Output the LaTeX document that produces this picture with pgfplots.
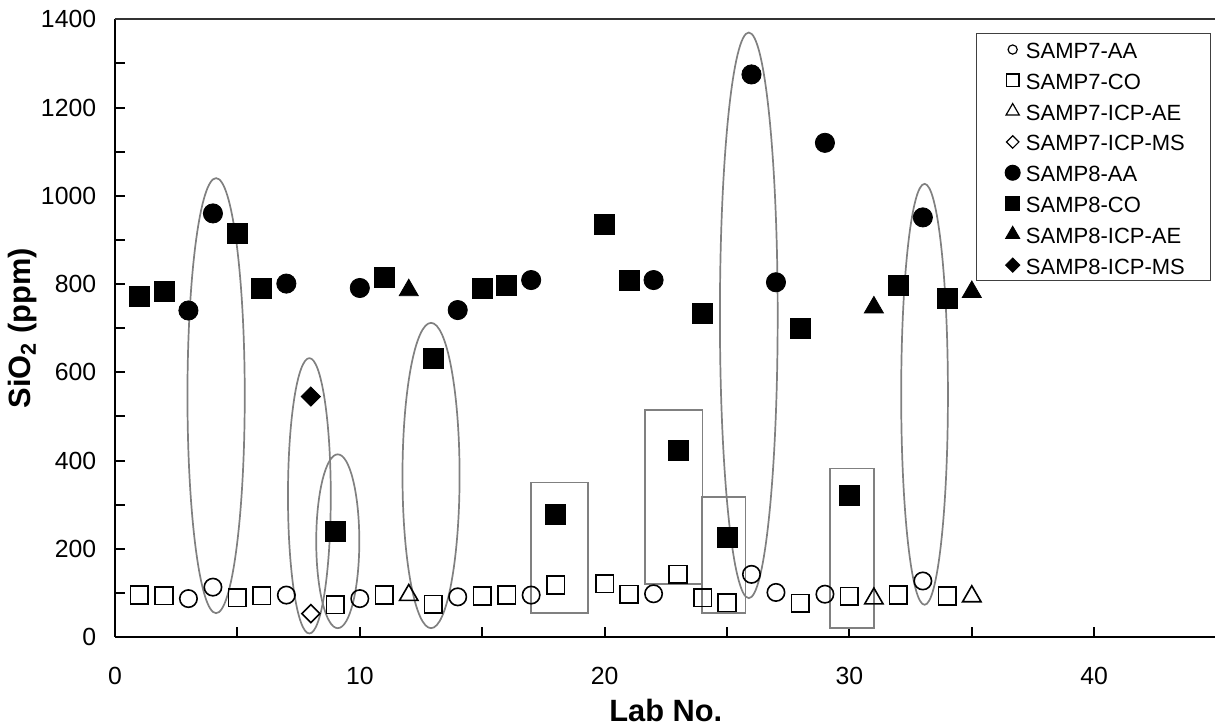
\documentclass[border=0pt]{standalone}
\usepackage{fontspec}
\setmainfont{Liberation Sans}
\usepackage{pgfplots}
\pgfplotsset{compat=1.18}

\begin{document}
\begin{tikzpicture}
\begin{axis}[
  scale only axis,
  width=550.8pt, height=308.85pt,
  xmin=0, xmax=45, ymin=0, ymax=1400,
  clip=false,
  axis lines=left,
  axis line style={-, line width=1.2pt, black},
  xtick={0,10,20,30,40},
  minor xtick={5,15,25,35},
  ytick={0,200,...,1400},
  minor ytick={100,300,...,1300},
  tick align=inside,
  major tick length=5pt, minor tick length=5pt,
  every tick/.style={black, line width=1pt},
  /pgf/number format/assume math mode=true,
  /pgf/number format/1000 sep={},
  tick label style={font=\fontsize{12.4}{14}\selectfont},
  yticklabel style={xshift=-5.9pt},
  xticklabel style={yshift=-11.4pt},
  xlabel={Lab No.},
  ylabel={SiO\textsubscript{2} (ppm)},
  xlabel style={at={(axis description cs:0.5,0)}, anchor=north, inner sep=0pt,
                yshift=-31pt, font=\fontsize{15.4}{18}\selectfont\bfseries},
  ylabel style={at={(axis description cs:-0.0971,0.5)}, anchor=north,
                inner sep=0pt, font=\fontsize{15.4}{18}\selectfont\bfseries},
  legend style={at={(0.8885,0.7765)}, anchor=center, draw=black!75, line width=0.5pt,
                inner xsep=13pt, inner ysep=3.45pt, row sep=6.5pt,
                font=\fontsize{11}{13}\selectfont,
                nodes={inner sep=0pt, text height=8.9pt, text depth=0pt},
                /tikz/every odd column/.append style={column sep=1.65pt}},
  legend cell align=left,
  legend image code/.code={\path[draw=none] (-5pt,0pt) -- (5pt,0pt);
                           \draw[#1] plot coordinates {(0pt,0pt)};},
]
% SAMP7-AA
\addplot[only marks, black, mark=o, mark size=4.35pt, mark options={line width=0.8pt}, forget plot]
  coordinates {(3,87)(4,113)(7,95)(10,87)(14,91)(17,95)(22,98)(26,142)(27,101)(29,97)(33,127)};
% SAMP7-CO
\addplot[only marks, black, mark=square, mark size=4.4pt, mark options={line width=0.8pt}, forget plot]
  coordinates {(1,95)(2,94)(5,89)(6,94)(9,73)(11,95)(13,74)(15,93)(16,95)(18,118)(20,121)
               (21,97)(23,142)(24,89)(25,78)(28,76)(30,92)(32,95)(34,93)};
% SAMP7-ICP-AE
\addplot[only marks, black, mark=triangle, mark size=5.3pt, mark options={line width=0.8pt}, forget plot]
  coordinates {(12,95)(31,87)(35,92)};
% SAMP7-ICP-MS
\addplot[only marks, black, mark=square, mark size=3.2pt, mark options={rotate=45, line width=0.8pt}, forget plot]
  coordinates {(8,53)};
% SAMP8-AA
\addplot[only marks, black, mark=*, mark size=4.8pt, forget plot]
  coordinates {(3,740)(4,960)(7,801)(10,791)(14,741)(17,809)(22,809)(26,1275)(27,804)(29,1120)(33,951)};
% SAMP8-CO
\addplot[only marks, black, mark=square*, mark size=5pt, forget plot]
  coordinates {(1,771)(2,783)(5,914)(6,791)(9,239)(11,815)(13,632)(15,791)(16,796)(18,278)(20,936)
               (21,809)(23,424)(24,734)(25,225)(28,699)(30,321)(32,798)(34,768)};
% SAMP8-ICP-AE
\addplot[only marks, black, mark=triangle*, mark size=5.5pt, forget plot]
  coordinates {(12,786)(31,747)(35,782)};
% SAMP8-ICP-MS
\addplot[only marks, black, mark=square*, mark size=3.4pt, mark options={rotate=45}, forget plot]
  coordinates {(8,545)};

\addlegendimage{only marks, black, mark=o, mark size=2.3pt, mark options={line width=0.6pt}}
\addlegendentry{SAMP7-AA}
\addlegendimage{only marks, black, mark=square, mark size=3.2pt, mark options={line width=0.6pt}}
\addlegendentry{SAMP7-CO}
\addlegendimage{only marks, black, mark=triangle, mark size=3.8pt, mark options={line width=0.6pt}}
\addlegendentry{SAMP7-ICP-AE}
\addlegendimage{only marks, black, mark=square, mark size=2.2pt, mark options={rotate=45, line width=0.6pt}}
\addlegendentry{SAMP7-ICP-MS}
\addlegendimage{only marks, black, mark=*, mark size=3.75pt}
\addlegendentry{SAMP8-AA}
\addlegendimage{only marks, black, mark=square*, mark size=3.5pt}
\addlegendentry{SAMP8-CO}
\addlegendimage{only marks, black, mark=triangle*, mark size=4pt}
\addlegendentry{SAMP8-ICP-AE}
\addlegendimage{only marks, black, mark=square*, mark size=2.5pt, mark options={rotate=45}}
\addlegendentry{SAMP8-ICP-MS}

% top border line
\draw[black!80, line width=1pt] (rel axis cs:0,1) -- (rel axis cs:1,1);

% annotations
\draw[gray, line width=0.85pt] (axis cs:4.13,547) ellipse [x radius=1.17, y radius=493];
\draw[gray, line width=0.85pt] (axis cs:7.94,320) ellipse [x radius=0.874, y radius=312];
\draw[gray, line width=0.85pt] (axis cs:9.10,217) ellipse [x radius=0.88, y radius=197];
\draw[gray, line width=0.85pt] (axis cs:12.91,366) ellipse [x radius=1.166, y radius=346];
\draw[gray, line width=0.85pt] (axis cs:25.89,729) ellipse [x radius=1.18, y radius=641];
\draw[gray, line width=0.85pt] (axis cs:33.07,550) ellipse [x radius=0.955, y radius=477];
\draw[gray, line width=0.85pt] (axis cs:16.98,54) rectangle (axis cs:19.32,350);
\draw[gray, line width=0.85pt] (axis cs:21.64,120) rectangle (axis cs:24.0,514);
\draw[gray, line width=0.85pt] (axis cs:23.99,54) rectangle (axis cs:25.76,317);
\draw[gray, line width=0.85pt] (axis cs:29.21,20) rectangle (axis cs:31.0,382);
\end{axis}
\pgfresetboundingbox
\useasboundingbox (-57.5pt,-45pt) rectangle (550pt,318.5pt);
\end{tikzpicture}
\end{document}
